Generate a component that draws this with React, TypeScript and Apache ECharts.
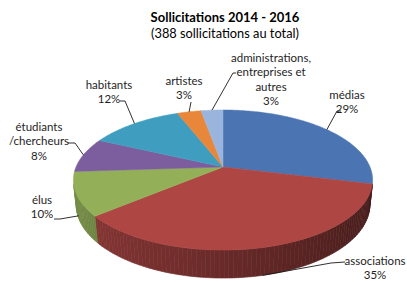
import React, { useEffect, useRef } from "react";
import * as echarts from "echarts";

// ---- data ----
const categories = [
  "médias",
  "associations",
  "élus",
  "étudiants\n/chercheurs",
  "habitants",
  "artistes",
  "administrations,\nentreprises et\nautres",
];
const counts = [112, 136, 39, 31, 47, 12, 11];
const colors = ["#4a74b2", "#ae4644", "#93b058", "#7c5e9f", "#3f9ec0", "#e8873a", "#99b4dd"];
const titleText = "Sollicitations 2014 - 2016";
const subtitleTemplate = (n: number) => `(${n} sollicitations au total)`;

// ---- layout (label placement, not data) ----
const labelPos = [
  [347, 87],
  [375, 253],
  [42, 192],
  [39, 119],
  [109, 77],
  [184, 73],
  [271, 50],
];
const leaderElbow = [
  [[337, 111], [341, 111]],
  [[331, 263], [345, 262]],
  [[60, 219], [54, 219]],
  [[75, 143], [68, 143]],
  [[125, 101], [120, 101]],
  [[191, 102]],
  [[233, 73], [236, 73]],
];
const anchorDepth = [0, 1, 0.85, 0, 0, 0, 0];

// ---- 3D projection parameters ----
const CX = 223;
const CY = 167;
const K = 147;
const SINA = 0.46;
const COSA = 0.888;
const DD = 4.77;
const H = 0.19;
const FONT = "Lato, 'Open Sans', sans-serif";

function proj(theta: number, h: number): number[] {
  const X = Math.sin(theta);
  const Z = Math.cos(theta);
  const Y = -H * h;
  const u = Z * SINA + Y * COSA;
  const w = Z * COSA - Y * SINA;
  const d = 1 + w / DD;
  return [CX + (K * X) / d, CY - (K * u) / d];
}

function shade(hex: string, f: number): string {
  const r = parseInt(hex.slice(1, 3), 16);
  const g = parseInt(hex.slice(3, 5), 16);
  const b = parseInt(hex.slice(5, 7), 16);
  const c = (v: number) => Math.max(0, Math.min(255, Math.round(v * f)));
  return `rgb(${c(r)},${c(g)},${c(b)})`;
}

export default function App() {
  const ref = useRef<HTMLDivElement>(null);
  useEffect(() => {
    if (!ref.current) return;
    const chart = echarts.init(ref.current, undefined, { renderer: "svg" });
    const total = counts.reduce((a, b) => a + b, 0);
    const visLimit = Math.acos(-1 / (DD * COSA));
    const vis0 = visLimit;
    const vis1 = 2 * Math.PI - visLimit;

    const renderItem = (params: any, api: any) => {
      const i = params.dataIndex;
      const value = api.value(0);
      let start = 0;
      for (let j = 0; j < i; j++) start += counts[j];
      const a0 = (start / total) * 2 * Math.PI;
      const a1 = ((start + value) / total) * 2 * Math.PI;
      const children: any[] = [];

      // side faces
      const v0 = Math.max(a0, vis0);
      const v1 = Math.min(a1, vis1);
      if (v1 > v0) {
        const n = Math.max(1, Math.ceil((v1 - v0) / (Math.PI / 120)));
        for (let k = 0; k < n; k++) {
          const t0 = v0 + ((v1 - v0) * k) / n;
          const t1 = v0 + ((v1 - v0) * (k + 1)) / n;
          const tm = (t0 + t1) / 2;
          const f = 0.6 - 0.2 * Math.sin(tm);
          const col = shade(colors[i], f);
          children.push({
            type: "polygon",
            shape: { points: [proj(t0, 0), proj(t1, 0), proj(t1, 1), proj(t0, 1)] },
            style: { fill: col, stroke: col, lineWidth: 0.6 },
            z2: 1,
          });
        }
      }

      // top face
      const pts: number[][] = [[CX, CY]];
      const nt = Math.max(2, Math.ceil((a1 - a0) / (Math.PI / 180)));
      for (let k = 0; k <= nt; k++) pts.push(proj(a0 + ((a1 - a0) * k) / nt, 0));
      children.push({
        type: "polygon",
        shape: { points: pts },
        style: { fill: colors[i], stroke: colors[i], lineWidth: 0.5 },
        z2: 10,
      });

      // leader line
      const am = (a0 + a1) / 2;
      const anchor = proj(am, anchorDepth[i]);
      children.push({
        type: "polyline",
        shape: { points: [anchor, ...leaderElbow[i]] },
        style: { stroke: "#1a1a1a", lineWidth: 0.9, fill: null },
        z2: 20,
      });

      // label
      const pct = Math.round((value / total) * 100);
      children.push({
        type: "text",
        x: labelPos[i][0],
        y: labelPos[i][1],
        style: {
          text: `${categories[i]}\n${pct}%`,
          align: "center",
          verticalAlign: "top",
          fontSize: 11.5,
          fontFamily: FONT,
          fill: "#1e1e1e",
          lineHeight: 14.5,
        },
        z2: 30,
      });

      return { type: "group", children };
    };

    chart.setOption({
      animation: false,
      graphic: [
        {
          type: "text",
          x: 225,
          y: 10,
          style: {
            text: titleText,
            align: "center",
            verticalAlign: "top",
            fontSize: 13,
            fontWeight: "bold",
            fontFamily: FONT,
            fill: "#000",
          },
        },
        {
          type: "text",
          x: 225,
          y: 26,
          style: {
            text: subtitleTemplate(total),
            align: "center",
            verticalAlign: "top",
            fontSize: 12.8,
            fontFamily: FONT,
            fill: "#000",
          },
        },
      ],
      series: [
        {
          type: "custom",
          coordinateSystem: "none",
          silent: true,
          data: counts.map((v) => [v]),
          renderItem,
        },
      ],
    });
    return () => chart.dispose();
  }, []);

  return (
    <div
      ref={ref}
      style={{ position: "fixed", left: 0, top: 0, width: 407, height: 282, background: "#fff" }}
    />
  );
}
